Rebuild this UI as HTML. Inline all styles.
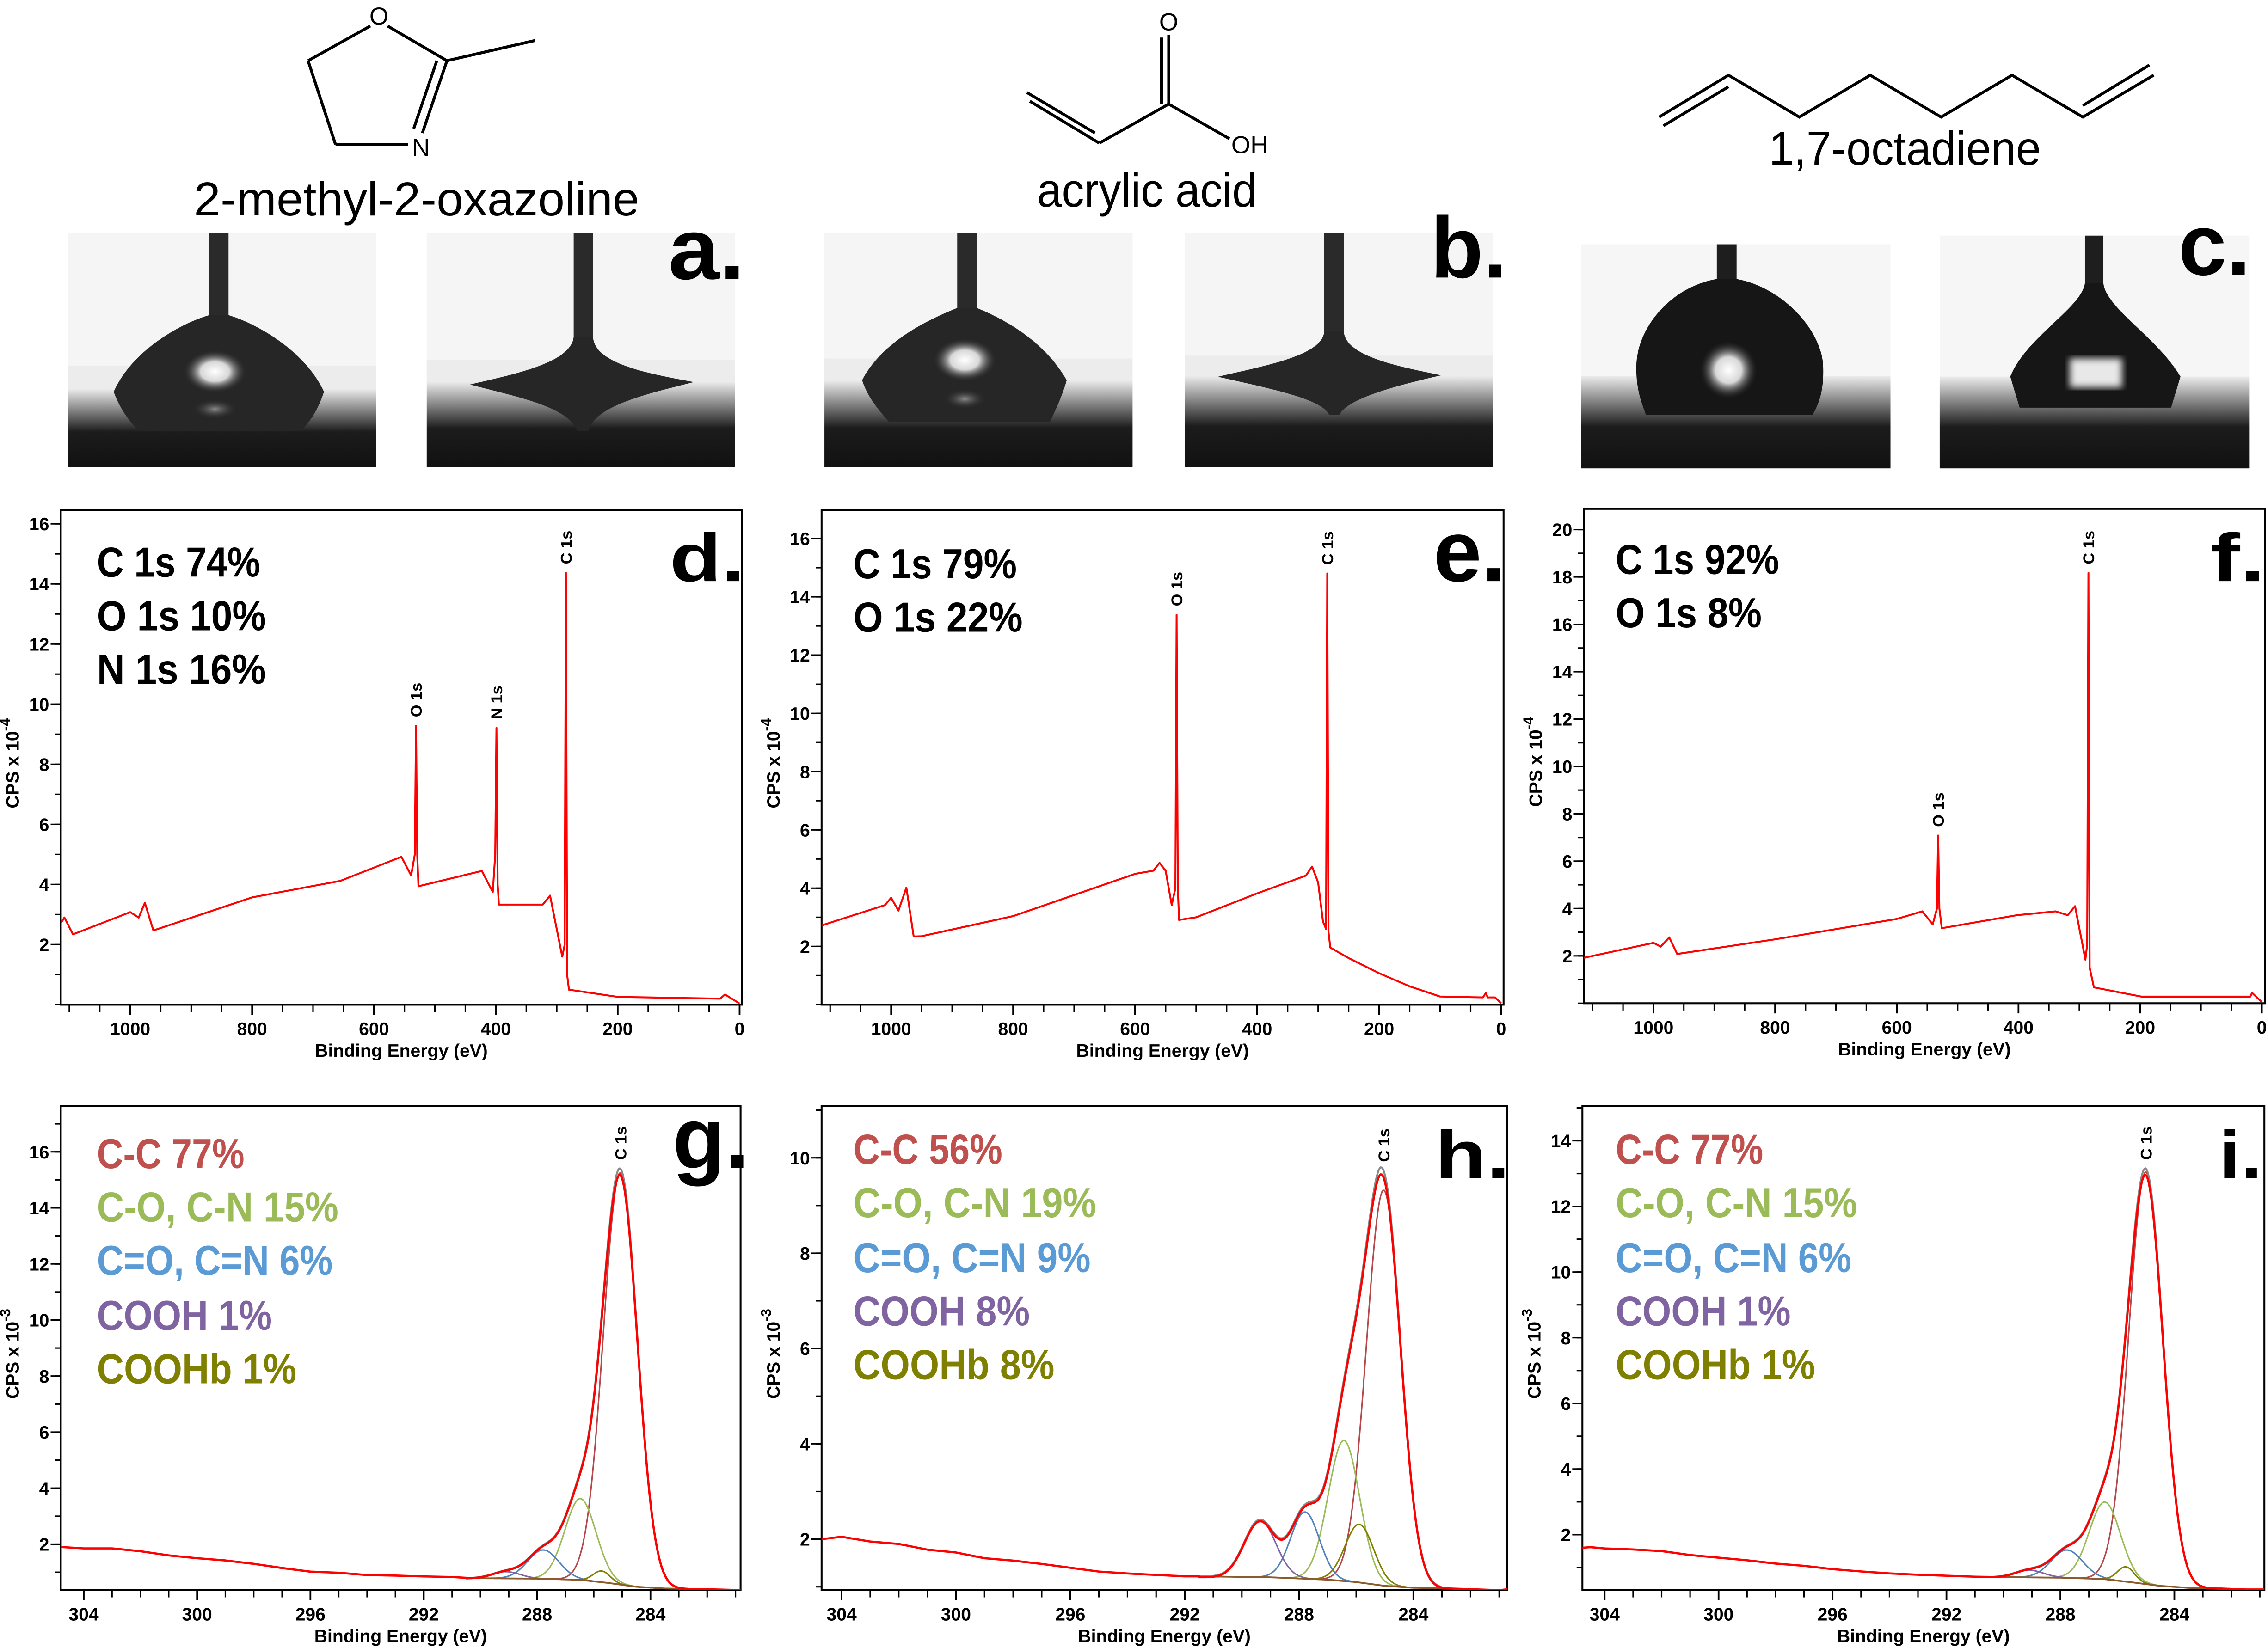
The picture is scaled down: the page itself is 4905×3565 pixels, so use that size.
<!DOCTYPE html>
<html>
<head>
<meta charset="utf-8">
<style>
html,body{margin:0;padding:0;background:#fff;}
svg{display:block;}
text{font-family:"Liberation Sans",Arial,sans-serif;}
</style>
</head>
<body>
<svg id="fig" xmlns="http://www.w3.org/2000/svg" width="4905" height="3565" viewBox="0 0 1568 1140" preserveAspectRatio="none">
<defs>
  <linearGradient id="surfA" x1="0" y1="0" x2="0" y2="1"><stop offset="0" stop-color="#ececec"/><stop offset="0.55" stop-color="#1c1c1c"/><stop offset="1" stop-color="#111"/></linearGradient>
  <radialGradient id="spot" cx="0.5" cy="0.5" r="0.5"><stop offset="0" stop-color="#ffffff"/><stop offset="0.45" stop-color="#d8d8d8"/><stop offset="1" stop-color="#262626" stop-opacity="0"/></radialGradient>
  <radialGradient id="spotDim" cx="0.5" cy="0.5" r="0.5"><stop offset="0" stop-color="#8a8a8a"/><stop offset="1" stop-color="#262626" stop-opacity="0"/></radialGradient>
  <filter id="blur2"><feGaussianBlur stdDeviation="2.5"/></filter>
</defs>

<!-- Molecules -->
<g stroke="#000" stroke-width="2" fill="none">
  <line x1="256" y1="18" x2="213" y2="42"/>
  <line x1="213" y1="42" x2="232" y2="100"/>
  <line x1="232" y1="100" x2="282" y2="100"/>
  <line x1="292" y1="92" x2="309" y2="42"/>
  <line x1="286" y1="89" x2="302" y2="42"/>
  <line x1="268" y1="18" x2="309" y2="42"/>
  <line x1="309" y1="42" x2="370" y2="28"/>
</g>
<text x="262" y="17" font-size="17" text-anchor="middle">O</text>
<text x="291" y="108" font-size="17" text-anchor="middle">N</text>
<text x="288" y="149" font-size="33" text-anchor="middle" textLength="308" lengthAdjust="spacingAndGlyphs">2-methyl-2-oxazoline</text>

<g stroke="#000" stroke-width="2" fill="none">
  <line x1="808" y1="24" x2="808" y2="72"/>
  <line x1="803" y1="26" x2="803" y2="72"/>
  <line x1="808" y1="72" x2="760" y2="99"/>
  <line x1="760" y1="99" x2="712" y2="70"/>
  <line x1="757" y1="92" x2="710" y2="64"/>
  <line x1="808" y1="72" x2="850" y2="96"/>
</g>
<text x="808" y="21" font-size="17" text-anchor="middle">O</text>
<text x="864" y="106" font-size="17" text-anchor="middle">OH</text>
<text x="793" y="143" font-size="33" text-anchor="middle" textLength="152" lengthAdjust="spacingAndGlyphs">acrylic acid</text>

<g stroke="#000" stroke-width="2" fill="none">
  <polyline points="1147,81 1195,52 1244,81 1293,52 1342,81 1391,52 1440,81 1489,52"/>
  <line x1="1150" y1="87" x2="1195" y2="60"/>
  <line x1="1440" y1="73" x2="1486" y2="45"/>
</g>
<text x="1317" y="114" font-size="33" text-anchor="middle" textLength="188" lengthAdjust="spacingAndGlyphs">1,7-octadiene</text>

<!-- Droplet photos -->
<g transform="translate(47,161)">
  <rect width="213" height="162" fill="#f5f5f5"/>
  <rect y="92" width="213" height="16" fill="#ececec"/>
  <rect y="108" width="213" height="54" fill="url(#surfA)"/>
  <rect x="97.6" y="0" width="13.4" height="60" fill="#2a2a2a"/>
  <path d="M97.6,57 C80,62 45,80 31.6,110 C36,122 42,130 49,137 L161,137 C168,130 173,122 177,110 C163,80 128,62 111,57 Z" fill="#262626"/>
  <ellipse cx="101.6" cy="96" rx="22" ry="15" fill="url(#spot)"/>
  <ellipse cx="101.6" cy="122" rx="16" ry="7" fill="url(#spotDim)"/>
</g>
<g transform="translate(295,161)">
  <rect width="213" height="162" fill="#f5f5f5"/>
  <rect y="88" width="213" height="15" fill="#ececec"/>
  <rect y="103" width="213" height="59" fill="url(#surfA)"/>
  <rect x="101.6" y="0" width="13.4" height="76" fill="#2a2a2a"/>
  <path d="M101.6,72 C100,90 60,98 30,105 C60,113 98,120 104,137 L112,137 C116,120 150,112 184.7,103.3 C150,97 116,90 115,72 Z" fill="#262626"/>
</g>
<g transform="translate(570,161)">
  <rect width="213" height="162" fill="#f5f5f5"/>
  <rect y="87" width="213" height="15" fill="#ececec"/>
  <rect y="102" width="213" height="60" fill="url(#surfA)"/>
  <rect x="91.8" y="0" width="13.5" height="55" fill="#2a2a2a"/>
  <path d="M91.8,52 C72,60 40,75 26,102 C30,114 37,122 44.7,131 L155.8,131 C160,122 164,114 167.5,102 C152,75 125,60 105.3,52 Z" fill="#262626"/>
  <ellipse cx="97" cy="88" rx="22" ry="15" fill="url(#spot)"/>
  <ellipse cx="97" cy="115" rx="15" ry="7" fill="url(#spotDim)"/>
</g>
<g transform="translate(819,161)">
  <rect width="213" height="162" fill="#f5f5f5"/>
  <rect y="85" width="213" height="14" fill="#ececec"/>
  <rect y="99" width="213" height="63" fill="url(#surfA)"/>
  <rect x="96.5" y="0" width="13.5" height="71" fill="#2a2a2a"/>
  <path d="M96.5,68 C96,85 55,92 23,99.6 C60,108 95,115 100,126 L107,126 C112,115 145,106 177.3,98.6 C145,92 111,85 110,68 Z" fill="#262626"/>
</g>
<g transform="translate(1093,169)">
  <rect width="214" height="155" fill="#f6f6f6"/>
  <rect y="91" width="214" height="64" fill="url(#surfA)"/>
  <rect x="93.9" y="0" width="13.7" height="27" fill="#1e1e1e"/>
  <path d="M93.9,24 C60,30 38,60 38.3,85 C38,100 42,110 45,118 L160,118 C165,110 168,100 167.5,85 C167,60 140,30 107.6,24 Z" fill="#161616"/>
  <ellipse cx="102" cy="87" rx="20" ry="20" fill="url(#spot)"/>
</g>
<g transform="translate(1341,163)">
  <rect width="214" height="161" fill="#f6f6f6"/>
  <rect y="97.5" width="214" height="63.5" fill="url(#surfA)"/>
  <rect x="100.4" y="0" width="12.8" height="36" fill="#1e1e1e"/>
  <path d="M100.4,33 C98,50 60,70 48.8,97.5 L55.3,119 L160,119 L166.5,97.5 C150,70 115,50 113.2,33 Z" fill="#161616"/>
  <rect x="90" y="85" width="36" height="20" fill="#e8e8e8" filter="url(#blur2)"/>
</g>

<!-- Panel letters -->
<g font-weight="bold" fill="#000">
<text x="462" y="193" font-size="60" textLength="53" lengthAdjust="spacingAndGlyphs">a.</text>
<text x="989" y="192" font-size="60" textLength="53" lengthAdjust="spacingAndGlyphs">b.</text>
<text x="1506" y="190" font-size="60" textLength="50" lengthAdjust="spacingAndGlyphs">c.</text>
<text x="463" y="402" font-size="47" textLength="52" lengthAdjust="spacingAndGlyphs">d.</text>
<text x="991" y="402" font-size="60" textLength="50" lengthAdjust="spacingAndGlyphs">e.</text>
<text x="1528" y="402" font-size="47" textLength="38" lengthAdjust="spacingAndGlyphs">f.</text>
<text x="465" y="808" font-size="60" textLength="53" lengthAdjust="spacingAndGlyphs">g.</text>
<text x="992" y="815" font-size="47" textLength="52" lengthAdjust="spacingAndGlyphs">h.</text>
<text x="1534" y="815" font-size="47" textLength="30" lengthAdjust="spacingAndGlyphs">i.</text>
</g>

<!-- Survey quantification -->
<g font-weight="bold" fill="#000" font-size="29">
<text x="67" y="399" textLength="113" lengthAdjust="spacingAndGlyphs">C 1s 74%</text>
<text x="67" y="436" textLength="117" lengthAdjust="spacingAndGlyphs">O 1s 10%</text>
<text x="67" y="473" textLength="117" lengthAdjust="spacingAndGlyphs">N 1s 16%</text>
<text x="590" y="400" textLength="113" lengthAdjust="spacingAndGlyphs">C 1s 79%</text>
<text x="590" y="437" textLength="117" lengthAdjust="spacingAndGlyphs">O 1s 22%</text>
<text x="1117" y="397" textLength="113" lengthAdjust="spacingAndGlyphs">C 1s 92%</text>
<text x="1117" y="434" textLength="101" lengthAdjust="spacingAndGlyphs">O 1s 8%</text>
</g>

<!-- High-res legends -->
<g font-weight="bold" font-size="29">
<text x="67" y="808" fill="#c0504d" textLength="102" lengthAdjust="spacingAndGlyphs">C-C 77%</text>
<text x="67" y="845" fill="#9bbb59" textLength="167" lengthAdjust="spacingAndGlyphs">C-O, C-N 15%</text>
<text x="67" y="882" fill="#5b9bd5" textLength="163" lengthAdjust="spacingAndGlyphs">C=O, C=N 6%</text>
<text x="67" y="920" fill="#8064a2" textLength="121" lengthAdjust="spacingAndGlyphs">COOH 1%</text>
<text x="67" y="957" fill="#7f7f00" textLength="138" lengthAdjust="spacingAndGlyphs">COOHb 1%</text>
<text x="590" y="805" fill="#c0504d" textLength="103" lengthAdjust="spacingAndGlyphs">C-C 56%</text>
<text x="590" y="842" fill="#9bbb59" textLength="168" lengthAdjust="spacingAndGlyphs">C-O, C-N 19%</text>
<text x="590" y="880" fill="#5b9bd5" textLength="164" lengthAdjust="spacingAndGlyphs">C=O, C=N 9%</text>
<text x="590" y="917" fill="#8064a2" textLength="122" lengthAdjust="spacingAndGlyphs">COOH 8%</text>
<text x="590" y="954" fill="#7f7f00" textLength="139" lengthAdjust="spacingAndGlyphs">COOHb 8%</text>
<text x="1117" y="805" fill="#c0504d" textLength="102" lengthAdjust="spacingAndGlyphs">C-C 77%</text>
<text x="1117" y="842" fill="#9bbb59" textLength="167" lengthAdjust="spacingAndGlyphs">C-O, C-N 15%</text>
<text x="1117" y="880" fill="#5b9bd5" textLength="163" lengthAdjust="spacingAndGlyphs">C=O, C=N 6%</text>
<text x="1117" y="917" fill="#8064a2" textLength="121" lengthAdjust="spacingAndGlyphs">COOH 1%</text>
<text x="1117" y="954" fill="#7f7f00" textLength="138" lengthAdjust="spacingAndGlyphs">COOHb 1%</text>
</g>
</svg>

<script>
// ---------- Survey data (binding energy eV, CPS x 1e-4) ----------
var dEnergy = [1114,1108,1094,1000,986,976,962,800,655,555,539,533,531,529,527,423,405,401,399,397,395,323,311,291,287,285,283,280,200,32,24,0];
var dCounts = [2.71,2.9,2.34,3.08,2.9,3.39,2.47,3.57,4.12,4.92,4.3,5.0,9.28,5.0,3.94,4.45,3.75,5.0,9.21,4.0,3.33,3.33,3.63,1.6,2.0,14.37,1.0,0.5,0.26,0.2,0.34,0.04];
var eEnergy = [1114,1010,1000,988,975,963,950,800,600,570,560,550,540,534,532,530,528,500,400,320,310,300,292,287,285,283,280,250,200,150,100,30,25,22,10,0];
var eCounts = [2.72,3.42,3.67,3.23,4.02,2.34,2.35,3.04,4.49,4.6,4.87,4.6,3.42,4.0,13.38,4.0,2.91,3.0,3.82,4.43,4.74,4.2,2.85,2.6,14.8,2.5,1.96,1.6,1.08,0.63,0.28,0.25,0.4,0.25,0.25,0.05];
var fEnergy = [1114,1000,988,974,961,800,600,558,541,534,532,530,526,402,339,319,307,290,287,285,283,276,198,19,16,0];
var fCounts = [1.92,2.55,2.39,2.78,2.08,2.7,3.56,3.88,3.33,4.0,7.08,4.0,3.17,3.72,3.88,3.72,4.1,1.84,2.5,18.17,1.5,0.67,0.28,0.28,0.44,0.05];
var surveyXTicks = [1000,800,600,400,200,0];
var dYTicks = [2,4,6,8,10,12,14,16];
var eYTicks = [2,4,6,8,10,12,14,16];
var fYTicks = [2,4,6,8,10,12,14,16,18,20];
var dPeakNames = ["O 1s","N 1s","C 1s"];
var dPeakEnergy = [531,399,285];
var dPeakTop = [9.28,9.21,14.37];
var ePeakNames = ["O 1s","C 1s"];
var ePeakEnergy = [532,285];
var ePeakTop = [13.38,14.8];
var fPeakNames = ["O 1s","C 1s"];
var fPeakEnergy = [532,285];
var fPeakTop = [7.08,18.17];

// ---------- High-res C 1s data (CPS x 1e-3) ----------
// component order: C-C, C-O/C-N, C=O/C=N, COOH, COOHb
var gCenters = [285.06,286.47,287.78,289.1,285.72];
var gHeights = [14.7,2.9,1.03,0.24,0.4];
var gSigmas  = [0.6,0.55,0.55,0.5,0.3];
var gBgEnergy = [290.5,288,286.5,285.5,284.5,283.5,282.4];
var gBgCounts = [0.79,0.77,0.73,0.62,0.48,0.42,0.4];
var gRawLeftE = [304.8,304,303,302,301,300,299,298,297,296,295,294,293,292,291,290.5];
var gRawLeftV = [1.9,1.85,1.85,1.75,1.6,1.5,1.42,1.3,1.15,1.02,0.98,0.9,0.88,0.85,0.83,0.8];
var gRawRightE = [282.4,281.5,280.8];
var gRawRightV = [0.4,0.38,0.36];

var hCenters = [285.04,286.43,287.79,289.37,285.89];
var hHeights = [8.3,2.95,1.4,1.2,1.22];
var hSigmas  = [0.6,0.55,0.5,0.55,0.5];
var hBgEnergy = [291.5,289,287,286,285,284,283];
var hBgCounts = [1.22,1.2,1.15,1.1,1.02,0.98,0.97];
var hRawLeftE = [304.7,304,303,302,301,300,299,298,297,296,295,294,293,292,291.5];
var hRawLeftV = [2.0,2.05,1.95,1.9,1.78,1.72,1.6,1.55,1.48,1.4,1.32,1.28,1.25,1.22,1.22];
var hRawRightE = [283,282,281,280.7];
var hRawRightV = [0.97,0.95,0.93,0.95];

var iCenters = [285.0,286.44,287.77,289.1,285.7];
var iHeights = [12.55,2.35,0.85,0.22,0.45];
var iSigmas  = [0.6,0.55,0.55,0.5,0.3];
var iBgEnergy = [290.33,288,286.5,285.5,284.5,283.5,282.4];
var iBgCounts = [0.71,0.69,0.65,0.55,0.44,0.38,0.36];
var iRawLeftE = [304.8,304.5,304,303,302,301,300,299,298,297,296,295,294,293,292,291,290.33];
var iRawLeftV = [1.6,1.62,1.58,1.55,1.5,1.38,1.3,1.22,1.12,1.05,0.95,0.88,0.82,0.78,0.75,0.72,0.71];
var iRawRightE = [282.4,281.5,280.84];
var iRawRightV = [0.36,0.33,0.33];

var hrXTicks = [304,300,296,292,288,284];
var gYTicks = [2,4,6,8,10,12,14,16];
var hYTicks = [2,4,6,8,10];
var iYTicks = [2,4,6,8,10,12,14];
var compColors = ["#b5474b","#9bbb59","#4f81bd","#8064a2","#808000"];
var compNames = ["cc","co","c-double-o","cooh","coohb"];

var NS = "http://www.w3.org/2000/svg";
var svg = document.getElementById("fig");

function mk(tag, parent) { var el = document.createElementNS(NS, tag); parent.appendChild(el); return el; }
function sx(p, E) { return p.x0 + (p.e0 - E) / (p.e0 - p.e1) * (p.x1 - p.x0); }
function sy(p, v) { return p.y1 - (v - p.v1) / (p.v0 - p.v1) * (p.y1 - p.y0); }
function lerp(xs, ys, x) {
  for (var k = 0; k < xs.length - 1; k++) {
    var a = xs[k], b = xs[k+1];
    if ((x <= a && x >= b) || (x >= a && x <= b)) { var t = (x - a) / (b - a); return ys[k] + t * (ys[k+1] - ys[k]); }
  }
  return ys[ys.length - 1];
}

function drawAxes(p, yTicks, minorStep, xTicks, xMinorStep, yExp) {
  var g = mk("g", svg);
  
  
  var fr = mk("rect", g);
  
  
  fr.setAttribute("x", p.x0); fr.setAttribute("y", p.y0);
  fr.setAttribute("width", p.x1 - p.x0); fr.setAttribute("height", p.y1 - p.y0);
  fr.setAttribute("fill", "none"); fr.setAttribute("stroke", "#000"); fr.setAttribute("stroke-width", "1.3");
  var vStart = Math.ceil(p.v1 / minorStep) * minorStep;
  for (var v = vStart; v <= p.v0; v += minorStep) {
    var ty = sy(p, v);
    var tk = mk("line", g);
    
    
    tk.setAttribute("x1", p.x0 - 4); tk.setAttribute("x2", p.x0); tk.setAttribute("y1", ty); tk.setAttribute("y2", ty);
    tk.setAttribute("stroke", "#000"); tk.setAttribute("stroke-width", "1");
  }
  yTicks.forEach(function (v) {
    var ty = sy(p, v);
    var tk = mk("line", g);
    
    
    tk.setAttribute("x1", p.x0 - 7); tk.setAttribute("x2", p.x0); tk.setAttribute("y1", ty); tk.setAttribute("y2", ty);
    tk.setAttribute("stroke", "#000"); tk.setAttribute("stroke-width", "1");
    var t = mk("text", g);
    
    
    t.setAttribute("x", p.x0 - 8); t.setAttribute("y", ty + 4.5);
    t.setAttribute("text-anchor", "end"); t.setAttribute("font-size", "12.5"); t.setAttribute("font-weight", "bold");
    t.textContent = v;
  });
  var lo = Math.min(p.e0, p.e1), hi = Math.max(p.e0, p.e1);
  for (var e = Math.ceil(lo / xMinorStep) * xMinorStep; e <= hi; e += xMinorStep) {
    var tx = sx(p, e);
    var tk2 = mk("line", g);
    
    
    tk2.setAttribute("x1", tx); tk2.setAttribute("x2", tx); tk2.setAttribute("y1", p.y1); tk2.setAttribute("y2", p.y1 + 5);
    tk2.setAttribute("stroke", "#000"); tk2.setAttribute("stroke-width", "1");
  }
  xTicks.forEach(function (e) {
    var tx = sx(p, e);
    var tk3 = mk("line", g);
    
    
    tk3.setAttribute("x1", tx); tk3.setAttribute("x2", tx); tk3.setAttribute("y1", p.y1); tk3.setAttribute("y2", p.y1 + 7);
    tk3.setAttribute("stroke", "#000"); tk3.setAttribute("stroke-width", "1.2");
    var t = mk("text", g);
    
    
    t.setAttribute("x", tx); t.setAttribute("y", p.y1 + 21);
    t.setAttribute("text-anchor", "middle"); t.setAttribute("font-size", "12.5"); t.setAttribute("font-weight", "bold");
    t.textContent = e;
  });
  var xt = mk("text", g);
  
  
  xt.setAttribute("x", (p.x0 + p.x1) / 2); xt.setAttribute("y", p.y1 + 36);
  xt.setAttribute("text-anchor", "middle"); xt.setAttribute("font-size", "12.5"); xt.setAttribute("font-weight", "bold");
  xt.textContent = "Binding Energy (eV)";
  var cy = (p.y0 + p.y1) / 2 + 4;
  var yt = mk("text", g);
  
  
  yt.setAttribute("transform", "translate(" + (p.x0 - 29) + "," + cy + ") rotate(-90)");
  yt.setAttribute("text-anchor", "middle"); yt.setAttribute("font-size", "12.5"); yt.setAttribute("font-weight", "bold");
  yt.textContent = "CPS x 10";
  var sup = mk("tspan", yt);
  sup.setAttribute("dy", "-6"); sup.setAttribute("font-size", "10");
  sup.textContent = yExp;
}

function clipFor(p) {
  var cp = mk("clipPath", svg);
  cp.setAttribute("id", "clip-" + p.id);
  var r = mk("rect", cp);
  r.setAttribute("x", p.x0); r.setAttribute("y", p.y0); r.setAttribute("width", p.x1 - p.x0); r.setAttribute("height", p.y1 - p.y0);
  return "url(#clip-" + p.id + ")";
}

function peakLabels(p, names, energies, tops) {
  names.forEach(function (n, k) {
    var tx = sx(p, energies[k]) + 4, ty = sy(p, tops[k]) - 6;
    var t = mk("text", svg);
    
    
    t.setAttribute("transform", "translate(" + tx + "," + ty + ") rotate(-90)");
    t.setAttribute("font-size", "11"); t.setAttribute("font-weight", "bold");
    t.textContent = n;
  });
}

function drawSurvey(p, E, V, yTicks, names, pe, pt) {
  drawAxes(p, yTicks, 1, surveyXTicks, 50, "-4");
  var pts = E.map(function (e, k) { return sx(p, e).toFixed(2) + "," + sy(p, V[k]).toFixed(2); }).join(" ");
  var pl = mk("polyline", svg);
  
  
  pl.setAttribute("points", pts); pl.setAttribute("fill", "none");
  pl.setAttribute("stroke", "#ff0000"); pl.setAttribute("stroke-width", "1.3"); pl.setAttribute("stroke-linejoin", "round");
  pl.setAttribute("clip-path", clipFor(p));
  peakLabels(p, names, pe, pt);
}

function drawHighRes(p, C, H, S, bgE, bgV, rlE, rlV, rrE, rrV, yTicks) {
  drawAxes(p, yTicks, 1, hrXTicks, 1, "-3");
  var clip = clipFor(p);
  var eStart = bgE[0], eEnd = bgE[bgE.length - 1];
  var grid = [];
  for (var e = eStart; e >= eEnd - 1e-9; e -= 0.04) grid.push(e);
  function bg(e) { return lerp(bgE, bgV, e); }
  function comp(k, e) { return H[k] * Math.exp(-0.5 * Math.pow((e - C[k]) / S[k], 2)); }
  C.forEach(function (c, k) {
    var pts = grid.map(function (e) { return sx(p, e).toFixed(2) + "," + sy(p, bg(e) + comp(k, e)).toFixed(2); }).join(" ");
    var pl = mk("polyline", svg);
    
    
    pl.setAttribute("points", pts); pl.setAttribute("fill", "none");
    pl.setAttribute("stroke", compColors[k]); pl.setAttribute("stroke-width", "1");
    pl.setAttribute("clip-path", clip);
  });
  var bpts = grid.map(function (e) { return sx(p, e).toFixed(2) + "," + sy(p, bg(e)).toFixed(2); }).join(" ");
  var bl = mk("polyline", svg);
  
  
  bl.setAttribute("points", bpts); bl.setAttribute("fill", "none");
  bl.setAttribute("stroke", "#8b5a2b"); bl.setAttribute("stroke-width", "1.2");
  bl.setAttribute("clip-path", clip);
  function env(e) { var s = bg(e); for (var k = 0; k < C.length; k++) s += comp(k, e); return s; }
  var epts = grid.map(function (e) { return sx(p, e).toFixed(2) + "," + sy(p, env(e)).toFixed(2); }).join(" ");
  var el = mk("polyline", svg);
  
  
  el.setAttribute("points", epts); el.setAttribute("fill", "none");
  el.setAttribute("stroke", "#888"); el.setAttribute("stroke-width", "1.3");
  el.setAttribute("clip-path", clip);
  var dp = [];
  rlE.forEach(function (e, k) { dp.push(sx(p, e).toFixed(2) + "," + sy(p, rlV[k]).toFixed(2)); });
  grid.forEach(function (e) { dp.push(sx(p, e).toFixed(2) + "," + sy(p, env(e) * 0.985).toFixed(2)); });
  rrE.forEach(function (e, k) { dp.push(sx(p, e).toFixed(2) + "," + sy(p, rrV[k]).toFixed(2)); });
  var dl = mk("polyline", svg);
  
  
  dl.setAttribute("points", dp.join(" ")); dl.setAttribute("fill", "none");
  dl.setAttribute("stroke", "#ff0000"); dl.setAttribute("stroke-width", "1.5"); dl.setAttribute("stroke-linejoin", "round");
  dl.setAttribute("clip-path", clip);
  var top = env(C[0]);
  peakLabels(p, ["C 1s"], [C[0]], [top]);
}

var pD = {id:"d", x0:42, x1:513, y0:353, y1:695, e0:1114, e1:-4, v0:16.45, v1:0};
var pE = {id:"e", x0:568, x1:1039.5, y0:353, y1:695, e0:1114, e1:-4, v0:16.97, v1:0};
var pF = {id:"f", x0:1095, x1:1566, y0:352, y1:694, e0:1114.4, e1:-5.4, v0:20.875, v1:0};
var pG = {id:"g", x0:42, x1:512, y0:765, y1:1100, e0:304.81, e1:280.82, v0:17.64, v1:0.36};
var pH = {id:"h", x0:568, x1:1042, y0:765, y1:1100, e0:304.7, e1:280.72, v0:11.09, v1:0.93};
var pI = {id:"i", x0:1094, x1:1565.5, y0:765, y1:1100, e0:304.78, e1:280.84, v0:15.06, v1:0.31};

drawSurvey(pD, dEnergy, dCounts, dYTicks, dPeakNames, dPeakEnergy, dPeakTop);
drawSurvey(pE, eEnergy, eCounts, eYTicks, ePeakNames, ePeakEnergy, ePeakTop);
drawSurvey(pF, fEnergy, fCounts, fYTicks, fPeakNames, fPeakEnergy, fPeakTop);
drawHighRes(pG, gCenters, gHeights, gSigmas, gBgEnergy, gBgCounts, gRawLeftE, gRawLeftV, gRawRightE, gRawRightV, gYTicks);
drawHighRes(pH, hCenters, hHeights, hSigmas, hBgEnergy, hBgCounts, hRawLeftE, hRawLeftV, hRawRightE, hRawRightV, hYTicks);
drawHighRes(pI, iCenters, iHeights, iSigmas, iBgEnergy, iBgCounts, iRawLeftE, iRawLeftV, iRawRightE, iRawRightV, iYTicks);
</script>
</body>
</html>
